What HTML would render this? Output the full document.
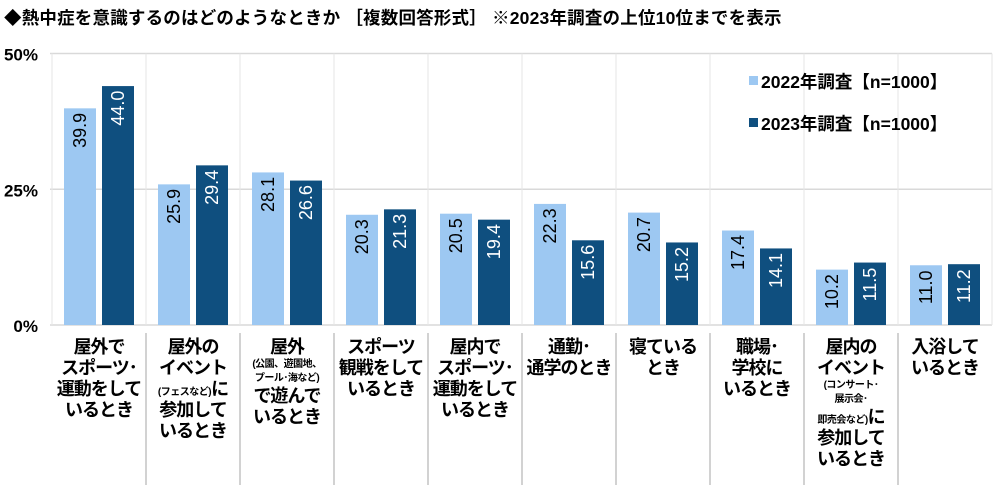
<!DOCTYPE html>
<html><head><meta charset="utf-8">
<style>
body{margin:0;background:#fff;font-family:"Liberation Sans","Noto Sans CJK JP",sans-serif;}
#wrap{position:relative;width:1000px;height:485px;overflow:hidden;}
.t{position:absolute;font-weight:bold;color:#000;white-space:nowrap;}
.xl{position:absolute;top:337px;width:94px;text-align:center;font-weight:bold;font-size:18px;line-height:21px;letter-spacing:-1px;white-space:nowrap;}
.xl .s{font-size:10px;line-height:14px;letter-spacing:-0.5px;display:inline-block;}
</style></head><body>
<div id="wrap">
<div class="t" style="left:4px;top:5px;font-size:17.5px;letter-spacing:0.2px;">◆熱中症を意識するのはどのようなときか ［複数回答形式］ ※2023年調査の上位10位までを表示</div>
<svg id="svg" width="1000" height="485" style="position:absolute;left:0;top:0"></svg>
<div id="labels"></div>
</div>
<script>
const categories=["屋外でスポーツ・運動をしているとき","屋外のイベント（フェスなど）に参加しているとき","屋外（公園、遊園地、プール・海など）で遊んでいるとき","スポーツ観戦をしているとき","屋内でスポーツ・運動をしているとき","通勤・通学のとき","寝ているとき","職場・学校にいるとき","屋内のイベント（コンサート・展示会・即売会など）に参加しているとき","入浴しているとき"];
const s2022=[39.9,25.9,28.1,20.3,20.5,22.3,20.7,17.4,10.2,11.0];
const s2023=[44.0,29.4,26.6,21.3,19.4,15.6,15.2,14.1,11.5,11.2];
const ticks=[0,25,50];
const labelHtml=[
"屋外で<br>スポーツ･<br>運動をして<br>いるとき",
"屋外の<br>イベント<br><span class='s'>(フェスなど)</span>に<br>参加して<br>いるとき",
"屋外<br><span class='s'>(公園、遊園地、<br>プール･海など)</span><br>で遊んで<br>いるとき",
"スポーツ<br>観戦をして<br>いるとき",
"屋内で<br>スポーツ･<br>運動をして<br>いるとき",
"通勤･<br>通学のとき",
"寝ている<br>とき",
"職場･<br>学校に<br>いるとき",
"屋内の<br>イベント<br><span class='s'>(コンサート･<br>展示会･</span><br><span class='s'>即売会など)</span>に<br>参加して<br>いるとき",
"入浴して<br>いるとき"];
const NS="http://www.w3.org/2000/svg";
const svg=document.getElementById('svg');
const x0=52,cw=94,yB=325,yT=53.5;
const y=v=>yB-(v/50)*(yB-yT);
function mk(t,a){const e=document.createElementNS(NS,t);for(const k in a)e.setAttribute(k,a[k]);svg.appendChild(e);return e;}
ticks.forEach(t=>{
 const l=mk('line',{x1:50,x2:992,y1:y(t),y2:y(t),stroke:'#d9d9d9','stroke-width':1.5});
 
 
 const tx=mk('text',{x:38,y:y(t)+7,'text-anchor':'end','font-size':17,'font-weight':'bold','font-family':'Liberation Sans, sans-serif'});
 tx.textContent=t+'%';
 
 
});
for(let i=0;i<=categories.length;i++){
 const xx=x0+i*cw;
 const l=mk('line',{x1:xx,x2:xx,y1:yT,y2:yB,stroke:'#e6e6e6','stroke-width':1});
 
 
 if(i>0&&i<categories.length){const l2=mk('line',{x1:xx,x2:xx,y1:333,y2:485,stroke:'#a6a6a6','stroke-width':1});
 
 }
}
const lab=document.getElementById('labels');
categories.forEach((c,i)=>{
 [[s2022,12,'#9dc8f2','#000','2022'],[s2023,50,'#0f4f7f','#fff','2023']].forEach(([arr,off,col,tc,yr])=>{
  const v=arr[i],bx=x0+i*cw+off;
  const r=mk('rect',{x:bx,y:y(v),width:32,height:yB-y(v),fill:col});
  
  
  const cx=bx+16,cy=y(v)+22;
  const tx=mk('text',{x:cx,y:cy,fill:tc,'font-size':18,'text-anchor':'middle','dominant-baseline':'central','font-family':'Liberation Sans, sans-serif',transform:`rotate(-90 ${cx} ${cy})`});
  tx.textContent=v.toFixed(1);
  
  
 });
 const d=document.createElement('div');
 d.className='xl';d.style.left=(x0+i*cw)+'px';d.innerHTML=labelHtml[i];
 
 
 lab.appendChild(d);
});
[['2022年調査【n=1000】','#9dc8f2',81],['2023年調査【n=1000】','#0f4f7f',123]].forEach(([t,c,yy],k)=>{
 const r=mk('rect',{x:749,y:yy-5,width:9,height:9,fill:c});
 
 
 const tx=mk('text',{x:761,y:yy+7,'font-size':17.5,'font-weight':'bold','font-family':'Liberation Sans, Noto Sans CJK JP, sans-serif'});
 tx.textContent=t;
 
 
});
</script>
</body></html>
